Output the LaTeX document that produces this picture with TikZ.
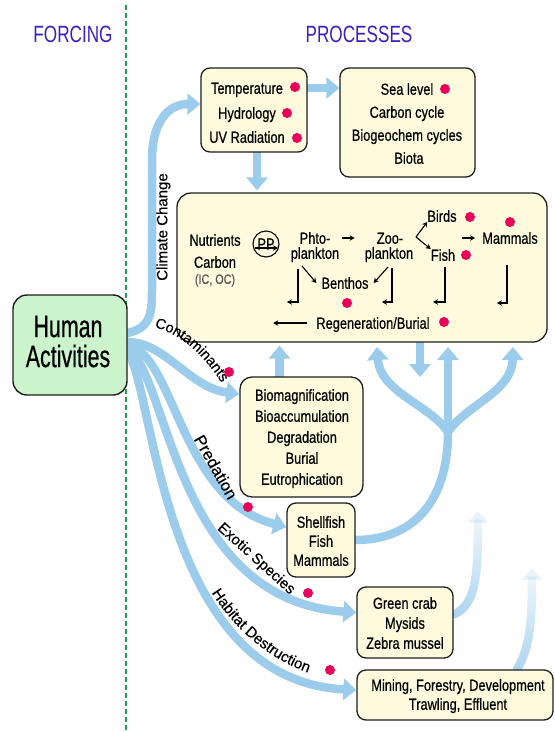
\documentclass[tikz,border=0pt]{standalone}
\usepackage{fontspec}
\setmainfont{Liberation Sans}
\newfontfamily\narrowfont{Liberation Sans}[FakeStretch=0.8,FakeBold=0.6]
\newfontfamily\headfont{Liberation Sans}[FakeStretch=0.73]
\newfontfamily\bigfont{Liberation Sans}[FakeStretch=0.69,FakeBold=0.6]
\newfontfamily\labfamily{Liberation Sans}[FakeBold=0.4]
\usetikzlibrary{arrows.meta,decorations.text,fadings}

\definecolor{flowblue}{RGB}{156,204,236}
\definecolor{boxfill}{RGB}{253,250,222}
\definecolor{boxline}{RGB}{30,30,30}
\definecolor{humanfill}{RGB}{204,244,204}
\definecolor{dotred}{RGB}{232,0,90}
\definecolor{headblue}{RGB}{58,32,190}
\definecolor{dashgreen}{RGB}{40,160,80}
\definecolor{icgray}{RGB}{85,85,85}

\newcommand\bodyfont{\narrowfont\fontsize{16}{19}\selectfont}
\newcommand\smallbody{\narrowfont\fontsize{13.5}{16}\selectfont}
\newcommand\labelfont{\labfamily\fontsize{15}{17}\selectfont}
\newcommand\predfont{\labfamily\fontsize{16.5}{18}\selectfont}
\newcommand\contfont{\labfamily\fontsize{14.5}{17}\selectfont}

\tikzfading[name=fadeup, top color=transparent!92, bottom color=transparent!15]

\pgfdeclarelayer{flows}
\pgfsetlayers{flows,main}

\tikzset{
  box/.style={draw=boxline, line width=1.3pt, fill=boxfill, rounded corners=9pt, inner sep=0pt},
  humanbox/.style={draw=boxline, line width=1.4pt, fill=humanfill, rounded corners=14pt, inner sep=0pt},
  txt/.style={font=\bodyfont, inner sep=0pt, text height=11.5pt, text depth=0pt},
  head/.style={font=\headfont\fontsize{23.5}{26}\selectfont, text=headblue, inner sep=0pt, text height=16.8pt, text depth=0pt},
  bigtxt/.style={font=\bigfont\fontsize{31}{34}\selectfont, inner sep=0pt, text height=22.2pt, text depth=0pt},
  slanted/.style={inner sep=0pt, text depth=0pt},
  reddot/.style={circle, fill=dotred, inner sep=0pt, minimum size=10pt},
  flow/.style={draw=flowblue, line width=8.5pt, line cap=round, -{Triangle[width=21pt,length=13pt]}},
  flowline/.style={draw=flowblue, line width=8.5pt, line cap=round},
  thinarrow/.style={draw=black, line width=1.1pt, -{Stealth[length=5pt,width=5.5pt]}},
  divider/.style={draw=dashgreen, line width=1.8pt, dash pattern=on 5pt off 3pt},
  pplabel/.style={circle, draw=black, line width=1.1pt, minimum size=26pt, inner sep=0pt, font=\narrowfont\fontsize{16}{18}\selectfont}
}

\begin{document}
\begin{tikzpicture}[x=1pt,y=-1pt]
\useasboundingbox (0,0) rectangle (555,732);

% column headings and divider
\node[head] (forcing) at (73,34) {FORCING};
\node[head] (processes) at (359,34) {PROCESSES};
\coordinate (divtop) at (126,5);
\coordinate (divbot) at (126,732);
\draw[divider] (divtop) -- (divbot);

% boxes
\node[humanbox, minimum width=114pt, minimum height=100pt] (human) at (70,345) {};
\node[box, minimum width=106pt, minimum height=84pt] (tempbox) at (254,110) {};
\node[box, minimum width=135pt, minimum height=109pt] (seabox) at (407.5,122.5) {};
\node[box, rounded corners=14pt, minimum width=370pt, minimum height=149pt] (eco) at (362,267.5) {};
\node[box, rounded corners=12pt, minimum width=123pt, minimum height=120pt] (biobox) at (301.5,437) {};
\node[box, minimum width=68pt, minimum height=74pt] (shellbox) at (321,540) {};
\node[box, minimum width=96pt, minimum height=71pt] (crabbox) at (405,622.5) {};
\node[box, minimum width=196pt, minimum height=50pt] (minebox) at (455,695) {};

% Human Activities
\node[bigtxt] (hum1) at (68,326) {Human};
\node[bigtxt] (hum2) at (68,356) {Activities};

% climate box texts
\node[txt] (temp1) at (247,88) {Temperature};
\node[txt] (temp2) at (247,113) {Hydrology};
\node[txt] (temp3) at (247,137) {UV Radiation};
\node[reddot] (dtemp1) at (295,87) {};
\node[reddot] (dtemp2) at (287,113) {};
\node[reddot] (dtemp3) at (297,138) {};

\node[txt] (sea1) at (407,89) {Sea level};
\node[txt] (sea2) at (407,112) {Carbon cycle};
\node[txt] (sea3) at (407,135) {Biogeochem cycles};
\node[txt] (sea4) at (409,158) {Biota};
\node[reddot] (dsea) at (445,89) {};

% food web
\node[txt] (nutr) at (215,240) {Nutrients};
\node[txt] (carb) at (215,262) {Carbon};
\node[font=\smallbody, text=icgray, inner sep=0pt, text height=9.7pt, text depth=0pt] (icoc) at (215,279) {(IC, OC)};
\node[pplabel] (pp) at (266,244) {PP};
\draw[thinarrow] ([xshift=-11pt,yshift=-4pt]pp.center) -- ([xshift=12pt,yshift=-4pt]pp.center);

\node[txt] (phto1) at (315,238) {Phto-};
\node[txt] (phto2) at (315,253) {plankton};
\node[txt] (zoo1) at (390,238) {Zoo-};
\node[txt] (zoo2) at (389,253) {plankton};
\node[txt] (birds) at (442,216) {Birds};
\node[txt] (fish) at (443,255) {Fish};
\node[txt] (mam) at (510,238) {Mammals};
\node[txt] (benthos) at (345,283) {Benthos};
\node[txt] (regen) at (373,323) {Regeneration/Burial};
\node[reddot] (dbirds) at (470,217) {};
\node[reddot] (dfish) at (466,255) {};
\node[reddot] (dmam) at (510,222) {};
\node[reddot] (dbenthos) at (347,303) {};
\node[reddot] (dregen) at (444,322) {};

\draw[thinarrow, shorten <=12pt, shorten >=22pt] (phto1.east) -- (zoo1.west);
\coordinate (brace) at (416,237);
\draw[thinarrow] (brace) -- (birds.south west);
\draw[thinarrow] (brace) -- (fish.north west);
\draw[thinarrow] ([xshift=-20pt]mam.west) -- ([xshift=-7pt]mam.west);
\coordinate (pb) at (302,266);
\coordinate (zb) at (388,267);
\draw[thinarrow] (pb) -- ([xshift=-5pt]benthos.west);
\draw[thinarrow] (zb) -- ([xshift=5pt]benthos.east);
\coordinate (hook1) at (298,269);
\coordinate (hook2) at (392,268);
\coordinate (hook3) at (445,267);
\coordinate (hook4) at (507,265);
\draw[thinarrow] (hook1) |- ++(-11,33);
\draw[thinarrow] (hook2) |- ++(-10,34);
\draw[thinarrow] (hook3) |- ++(-12,35);
\draw[thinarrow] (hook4) |- ++(-10,38);
\draw[thinarrow, shorten <=9pt] (regen.west) -- ++(-43,0);

% process box texts
\node[txt] (bio1) at (302,395) {Biomagnification};
\node[txt] (bio2) at (302,416) {Bioaccumulation};
\node[txt] (bio3) at (302,437) {Degradation};
\node[txt] (bio4) at (302,458) {Burial};
\node[txt] (bio5) at (302,479) {Eutrophication};

\node[txt] (shell1) at (321,522) {Shellfish};
\node[txt] (shell2) at (321,541) {Fish};
\node[txt] (shell3) at (321,560) {Mammals};

\node[txt] (crab1) at (405,603) {Green crab};
\node[txt] (crab2) at (405,623) {Mysids};
\node[txt] (crab3) at (405,643) {Zebra mussel};

\node[txt] (mine1) at (458,685) {Mining, Forestry, Development};
\node[txt] (mine2) at (458,704) {Trawling, Effluent};

% forcing labels and markers
\node[slanted, font=\labelfont, rotate=90, text height=10.7pt] (cclab) at (162,227) {Climate Change};
\path[decorate, decoration={text along path, text={|\contfont|Contaminants}, text align=center}]
  (144,325) .. controls (180,330) and (207,357) .. (227,392);
\node[slanted, font=\predfont, rotate=-60.5, text height=11.8pt] (predlab) at (216,467) {Predation};
\node[slanted, font=\labelfont, rotate=-42, text height=10.7pt] (exolab) at (257,558) {Exotic Species};
\path[decorate, decoration={text along path, text={|\labelfont|Habitat Destruction}, text align=center}]
  (206,584) .. controls (235,632) and (272,662) .. (318,676);
\node[reddot] (dcont) at (229,372) {};
\node[reddot] (dpred) at (248,507) {};
\node[reddot] (dexot) at (308,593) {};
\node[reddot] (dhab) at (330,670) {};

% broad flows
\coordinate (fork) at (448,432);
\coordinate (tipL) at (377,347);
\coordinate (tipM) at (448,347);
\coordinate (tipR) at (513,347);
\coordinate (downtip) at (420,377);
\coordinate (fadetip1) at (478,510);
\coordinate (fadetip2) at (532,567);

\begin{pgfonlayer}{flows}
  \draw[flow] ([yshift=12pt]human.east) .. controls (148,328) and (152,318) .. (152,292)
    -- (152,160) .. controls (152,122) and (168,104) .. ([yshift=6pt]tempbox.west);
  \draw[flow] ([yshift=3pt]human.east) .. controls (165,342) and (190,388) .. ([yshift=43pt]biobox.west);
  \draw[flow] (human.east) .. controls (175,355) and (180,500) .. ([yshift=13pt]shellbox.west);
  \draw[flow] ([yshift=-3pt]human.east) .. controls (170,380) and (175,600) .. ([yshift=10pt]crabbox.west);
  \draw[flow] ([yshift=-7pt]human.east) .. controls (155,390) and (160,680) .. ([yshift=5pt]minebox.west);

  \draw[flow] (tempbox.east |- temp1) -- (seabox.west |- temp1);
  \draw[flow] ([xshift=3pt]tempbox.south) -- ([xshift=3pt,yshift=2pt]tempbox.south |- eco.north);
  \draw[flow] ([xshift=-22pt]biobox.north) -- ([xshift=-22pt,yshift=-3pt]biobox.north |- eco.south);
  \draw[flow] (eco.south -| downtip) -- (downtip);

  \draw[flowline] (shellbox.east) .. controls (410,540) and (448,505) .. (fork);
  \draw[flow] (fork) -- (tipM);
  \draw[flow] (fork) .. controls (430,405) and (380,392) .. (tipL);
  \draw[flow] (fork) .. controls (466,405) and (512,392) .. (tipR);

  \draw[flow, path fading=fadeup] ([yshift=8pt]crabbox.east) .. controls (475,605) and (478,580) .. (fadetip1);
  \draw[flow, path fading=fadeup] ([xshift=62pt]minebox.north) .. controls (530,648) and (532,620) .. (fadetip2);
\end{pgfonlayer}
\end{tikzpicture}
\end{document}
